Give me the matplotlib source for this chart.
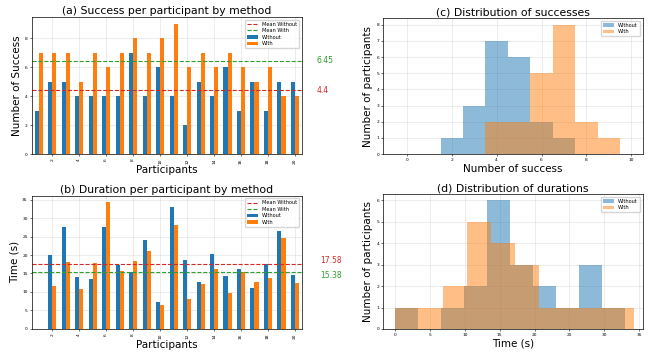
import numpy as np
import matplotlib
matplotlib.use("Agg")
import matplotlib.pyplot as plt
import matplotlib.transforms as mtransforms

participants = list(range(1, 21))
success_without = [3, 5, 5, 4, 4, 4, 4, 7, 4, 6, 4, 2, 5, 4, 6, 3, 5, 3, 5, 5]
success_with = [7, 7, 7, 5, 7, 6, 7, 8, 7, 8, 9, 6, 7, 6, 7, 6, 5, 6, 4, 4]
time_without = [0.0, 20.1, 27.6, 14.0, 13.4, 27.6, 17.2, 15.5, 24.1, 7.4,
                33.0, 18.6, 12.7, 20.2, 14.4, 16.1, 11.0, 17.5, 26.5, 14.7]
time_with = [0.0, 11.6, 18.2, 10.9, 17.8, 34.3, 15.6, 18.3, 21.0, 6.5,
             28.0, 8.1, 12.2, 16.3, 9.7, 15.5, 12.7, 13.9, 24.7, 12.4]
tick_participants = list(range(2, 21, 2))

C_WO = "#1f77b4"
C_W = "#ff7f0e"
C_MWO = "tab:red"
C_MW = "tab:green"

plt.rcParams["font.family"] = "DejaVu Sans"
fig = plt.figure(figsize=(6.53, 3.56), dpi=100)

TITLE = 7.8
LABEL = 7.5
TICK = 3.2
LEG = 3.6

def style(ax):
    ax.grid(True, color="#dddddd", linewidth=0.4)
    ax.set_axisbelow(True)
    ax.tick_params(labelsize=TICK, length=1.5, width=0.4, pad=1.5)
    for s in ax.spines.values():
        s.set_linewidth(0.5)

def bar_panel(ax, wo, w, title, ylabel):
    x = np.array(participants)
    mwo = np.mean(wo)
    mw = np.mean(w)
    ax.axhline(mwo, color=C_MWO, linestyle="--", linewidth=0.8, label="Mean Without")
    ax.axhline(mw, color=C_MW, linestyle="--", linewidth=0.8, label="Mean With")
    ax.bar(x - 0.15, wo, 0.3, color=C_WO, label="Without")
    ax.bar(x + 0.15, w, 0.3, color=C_W, label="With")
    ax.set_xlim(0.5, 20.5)
    ax.set_xticks(tick_participants)
    ax.set_xticklabels([str(t) for t in tick_participants], rotation=90)
    ax.set_title(title, fontsize=TITLE, pad=2)
    ax.set_xlabel("Participants", fontsize=LABEL, labelpad=1)
    ax.set_ylabel(ylabel, fontsize=LABEL, labelpad=2)
    style(ax)
    ax.legend(loc="upper right", fontsize=LEG, framealpha=0.8, handlelength=2.2,
              borderpad=0.4, labelspacing=0.3)
    tr = mtransforms.blended_transform_factory(ax.transAxes, ax.transData)
    return mwo, mw, tr

# (a)
ax_a = fig.add_axes([0.049, 0.567, 0.413, 0.385])
mwo, mw, tr = bar_panel(ax_a, success_without, success_with,
                        "(a) Success per participant by method", "Number of Success")
ax_a.set_yticks([0, 2, 4, 6, 8])
ax_a.text(1.055, mw, f"{mw:g}", transform=tr, color=C_MW, fontsize=5.5, va="center", ha="left")
ax_a.text(1.055, mwo, f"{mwo:g}", transform=tr, color=C_MWO, fontsize=5.5, va="center", ha="left")

# (b)
ax_b = fig.add_axes([0.049, 0.076, 0.413, 0.374])
mwo, mw, tr = bar_panel(ax_b, time_without, time_with,
                        "(b) Duration per participant by method", "Time (s)")
ax_b.set_yticks([0, 5, 10, 15, 20, 25, 30, 35])
ax_b.text(1.07, mwo + 0.8, f"{mwo:.2f}", transform=tr, color=C_MWO, fontsize=5.5, va="center", ha="left")
ax_b.text(1.07, mw - 0.8, f"{mw:.2f}", transform=tr, color=C_MW, fontsize=5.5, va="center", ha="left")

# (c)
ax_c = fig.add_axes([0.587, 0.567, 0.397, 0.382])
bins_c = np.arange(-0.5, 11, 1)
ax_c.hist(success_without, bins=bins_c, alpha=0.5, color=C_WO, label="Without")
ax_c.hist(success_with, bins=bins_c, alpha=0.5, color=C_W, label="With")
ax_c.set_xlim(-1.05, 10.5)
ax_c.set_yticks(range(0, 9))
ax_c.set_xticks([0, 2, 4, 6, 8, 10])
ax_c.set_title("(c) Distribution of successes", fontsize=TITLE, pad=2)
ax_c.set_xlabel("Number of success", fontsize=LABEL, labelpad=1)
ax_c.set_ylabel("Number of participants", fontsize=LABEL, labelpad=2)
style(ax_c)
ax_c.legend(loc="upper right", fontsize=LEG, handlelength=2.2, borderpad=0.4, labelspacing=0.3)

# (d)
ax_d = fig.add_axes([0.587, 0.076, 0.397, 0.379])
ax_d.hist(time_without, bins=10, alpha=0.5, color=C_WO, label="Without")
ax_d.hist(time_with, bins=10, alpha=0.5, color=C_W, label="With")
ax_d.set_xlim(-1.7, 35.5)
ax_d.set_xticks([0, 5, 10, 15, 20, 25, 30, 35])
ax_d.set_yticks(range(0, 7))
ax_d.set_title("(d) Distribution of durations", fontsize=TITLE, pad=2)
ax_d.set_xlabel("Time (s)", fontsize=LABEL, labelpad=1)
ax_d.set_ylabel("Number of participants", fontsize=LABEL, labelpad=2)
style(ax_d)
ax_d.legend(loc="upper right", fontsize=LEG, handlelength=2.2, borderpad=0.4, labelspacing=0.3)

fig.savefig("out.png", dpi=100)
